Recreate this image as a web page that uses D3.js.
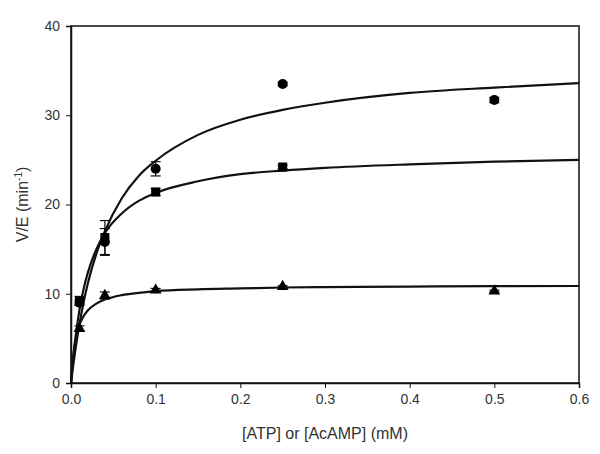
<!DOCTYPE html>
<html>
<head>
<meta charset="utf-8">
<script src="https://cdn.jsdelivr.net/npm/d3@7"></script>
<style>
  body { margin: 0; background: #fff; }
  text { font-family: "Liberation Sans", Arial, sans-serif; fill: #333; }
</style>
</head>
<body>
<div id="vis"></div>
<script>
var margin = {top: 26, right: 21, bottom: 71, left: 71},
    width = 600 - margin.left - margin.right,
    height = 454 - margin.top - margin.bottom;

// measured points
var conc = [0.01, 0.04, 0.1, 0.25, 0.5];
var circleVals = [9.0, 15.8, 24.0, 33.5, 31.7];
var circleErr  = [0.3, 1.5, 0.8, 0.2, 0.3];
var squareConc = [0.01, 0.04, 0.1, 0.25];
var squareVals = [9.2, 16.3, 21.4, 24.2];
var squareErr  = [0.5, 1.9, 0.4, 0.2];
var triVals = [6.1, 9.8, 10.4, 10.8, 10.3];
var triErr  = [0.3, 0.4, 0.2, 0.1, 0.1];

// fitted curves
var curveX      = [0, 0.0025, 0.005, 0.01, 0.015, 0.02, 0.03, 0.04, 0.06, 0.08, 0.1, 0.15, 0.2, 0.25, 0.3, 0.4, 0.5, 0.6];
var circleCurve = [0, 1.9, 3.6, 6.6, 9.1, 11.2, 14.5, 17.0, 20.7, 23.2, 24.9, 27.8, 29.5, 30.6, 31.4, 32.5, 33.1, 33.6];
var squareCurve = [0, 2.7, 4.9, 8.2, 10.6, 12.4, 15.0, 16.8, 19.0, 20.4, 21.3, 22.6, 23.4, 23.8, 24.1, 24.5, 24.8, 25.0];
var triCurve    = [0, 2.9, 4.6, 6.5, 7.5, 8.15, 8.9, 9.35, 9.85, 10.1, 10.3, 10.5, 10.6, 10.7, 10.75, 10.8, 10.85, 10.87];

var xTicks = [0, 0.1, 0.2, 0.3, 0.4, 0.5, 0.6];
var yTicks = [0, 10, 20, 30, 40];

var x = d3.scaleLinear().domain([0, 0.6]).range([0, width]);
var y = d3.scaleLinear().domain([0, 40]).range([height, 0]);

var svg = d3.select("#vis")
    .append("svg")
    .attr("width", 600)
    .attr("height", 454);

var g = svg.append("g")
    .attr("transform", "translate(" + margin.left + "," + margin.top + ")");

// frame
g.append("rect")
    .attr("width", width)
    .attr("height", height)
    .attr("fill", "none")
    .attr("stroke", "#111")
    .attr("stroke-width", 1.5);

var xAxis = g.append("g")
    .attr("transform", "translate(0," + height + ")")
    .call(d3.axisBottom(x).tickValues(xTicks).tickFormat(d3.format(".1f")).tickSize(5).tickPadding(6));

var yAxis = g.append("g")
    .call(d3.axisLeft(y).tickValues(yTicks).tickSize(5).tickPadding(6));

[xAxis, yAxis].forEach(function(a) {
  a.select(".domain").attr("stroke", "#111").attr("stroke-width", 1.5);
  a.selectAll(".tick line").attr("stroke", "#111");
  a.selectAll(".tick text").attr("font-size", 14).attr("fill", "#333")
      .style("font-family", "'Liberation Sans', Arial, sans-serif");
});

// curves
var line = d3.line()
    .x(function(d) { return x(d[0]); })
    .y(function(d) { return y(d[1]); })
    .curve(d3.curveMonotoneX);

[circleCurve, squareCurve, triCurve].forEach(function(c) {
  g.append("path")
      .datum(curveX.map(function(v, i) { return [v, c[i]]; }))
      .attr("fill", "none")
      .attr("stroke", "#111")
      .attr("stroke-width", 2.2)
      .attr("d", line);
});

// error bars
function errorBars(xs, vals, errs) {
  var data = xs.map(function(v, i) { return {x: v, y: vals[i], e: errs[i]}; });
  var eb = g.append("g").selectAll("g").data(data).enter().append("g")
      .attr("stroke", "#111").attr("stroke-width", 1.2);
  eb.append("line")
      .attr("x1", function(d) { return x(d.x); })
      .attr("x2", function(d) { return x(d.x); })
      .attr("y1", function(d) { return y(d.y - d.e); })
      .attr("y2", function(d) { return y(d.y + d.e); });
  [-1, 1].forEach(function(s) {
    eb.append("line")
        .attr("x1", function(d) { return x(d.x) - 5; })
        .attr("x2", function(d) { return x(d.x) + 5; })
        .attr("y1", function(d) { return y(d.y + s * d.e); })
        .attr("y2", function(d) { return y(d.y + s * d.e); });
  });
}
errorBars(conc, circleVals, circleErr);
errorBars(squareConc, squareVals, squareErr);
errorBars(conc, triVals, triErr);

// markers
g.selectAll(".circ")
    .data(conc.map(function(v, i) { return [v, circleVals[i]]; }))
    .enter().append("circle")
    .attr("cx", function(d) { return x(d[0]); })
    .attr("cy", function(d) { return y(d[1]); })
    .attr("r", 5)
    .attr("fill", "#000");

g.selectAll(".sq")
    .data(squareConc.map(function(v, i) { return [v, squareVals[i]]; }))
    .enter().append("rect")
    .attr("x", function(d) { return x(d[0]) - 4.5; })
    .attr("y", function(d) { return y(d[1]) - 4.5; })
    .attr("width", 9)
    .attr("height", 9)
    .attr("fill", "#000");

var tri = d3.symbol().type(d3.symbolTriangle).size(60);
g.selectAll(".tri")
    .data(conc.map(function(v, i) { return [v, triVals[i]]; }))
    .enter().append("path")
    .attr("transform", function(d) { return "translate(" + x(d[0]) + "," + y(d[1]) + ")"; })
    .attr("d", tri)
    .attr("fill", "#000");

// axis titles
svg.append("text")
    .attr("x", margin.left + width / 2)
    .attr("y", 439)
    .attr("text-anchor", "middle")
    .attr("font-size", 16)
    .text("[ATP] or [AcAMP] (mM)");

var yt = svg.append("text")
    .attr("transform", "translate(28," + (margin.top + height / 2) + ") rotate(-90)")
    .attr("text-anchor", "middle")
    .attr("font-size", 16);
yt.append("tspan").text("V/E (min");
yt.append("tspan").attr("font-size", 10).attr("dy", -6).text("-1");
yt.append("tspan").attr("dy", 6).text(")");
</script>
</body>
</html>
